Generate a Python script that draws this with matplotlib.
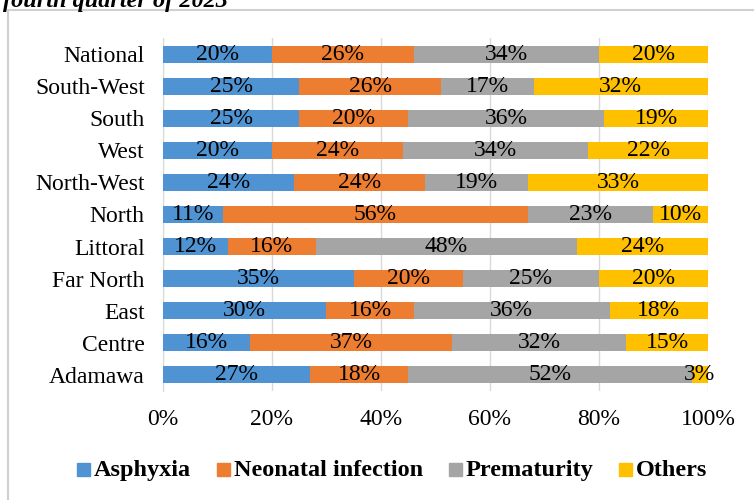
import numpy as np
import matplotlib.pyplot as plt
from matplotlib.patches import Rectangle

regions = ["National", "South-West", "South", "West", "North-West", "North",
           "Littoral", "Far North", "East", "Centre", "Adamawa"]
asphyxia = [20, 25, 25, 20, 24, 11, 12, 35, 30, 16, 27]
infection = [26, 26, 20, 24, 24, 56, 16, 20, 16, 37, 18]
prematurity = [34, 17, 36, 34, 19, 23, 48, 25, 36, 32, 52]
others = [20, 32, 19, 22, 33, 10, 24, 20, 18, 15, 3]

names = ["Asphyxia", "Neonatal infection", "Prematurity", "Others"]
colors = ["#4F93D3", "#ED7D31", "#A5A5A5", "#FFC000"]
values = [asphyxia, infection, prematurity, others]

serif = ['Liberation Serif', 'DejaVu Serif']
plt.rcParams['font.family'] = serif

W, H = 754, 500
fig = plt.figure(figsize=(W / 100, H / 100), dpi=100)
ax = fig.add_axes([0.216, 0.218, 0.723, 0.706])

# chart frame and clipped title
fig.patches.append(Rectangle((8 / W, -0.1), 1.0, 1.08, transform=fig.transFigure,
                             fill=False, edgecolor="#D0D0D0", lw=1.5))
fig.text(0.004, 0.987, "fourth quarter of 2023", fontsize=17.5, fontweight="bold",
         fontstyle="italic", va="baseline", ha="left")

y = np.arange(len(regions))
left = np.zeros(len(regions))
for name, vals, col in zip(names, values, colors):
    vals = np.array(vals, dtype=float)
    ax.barh(y, vals, left=left, height=0.53, color=col, label=name, zorder=3)
    for yi, l, v in zip(y, left, vals):
        ax.text(l + v / 2, yi, f"{int(v)}%", ha="center", va="center",
                fontsize=17, zorder=4)
    left += vals

ax.set_xlim(0, 100)
ax.set_ylim(len(regions) - 0.5, -0.5)
ax.set_yticks(y)
ax.set_yticklabels(regions, fontsize=17)
ax.set_xticks(range(0, 101, 20))
ax.set_xticklabels([f"{v}%" for v in range(0, 101, 20)], fontsize=17)
ax.tick_params(length=0)
ax.tick_params(axis="x", pad=13)
ax.tick_params(axis="y", pad=13)
ax.grid(axis="x", color="#D9D9D9", lw=1, zorder=0)
for s in ["top", "right", "bottom"]:
    ax.spines[s].set_visible(False)
ax.spines["left"].set_color("#D9D9D9")

# legend row (square + bold label, texts on one baseline)
leg_x = [77, 217, 449, 619]
for x0, name, col in zip(leg_x, names, colors):
    fig.patches.append(Rectangle((x0 / W, 1 - 476 / H), 13 / W, 13 / H,
                                 transform=fig.transFigure, color=col))
    fig.text((x0 + 17) / W, 1 - 476 / H, name, fontsize=17.5, fontweight="bold",
             va="baseline", ha="left")

fig.savefig("out.png", dpi=100)
